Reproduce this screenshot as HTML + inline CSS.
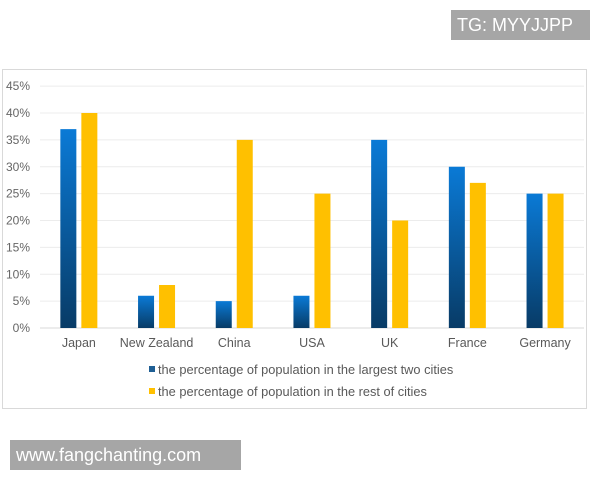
<!DOCTYPE html>
<html><head><meta charset="utf-8"><style>
body{margin:0;width:600px;height:480px;background:#fff;position:relative;overflow:hidden;font-family:"Liberation Sans",sans-serif}
.wm{position:absolute;background:#a6a6a6;color:#fff;font-size:18px;line-height:30px;padding-left:6px;box-sizing:border-box}
</style></head><body>
<div class="wm" style="left:451px;top:10px;width:139px;height:30px">TG: MYYJJPP</div>
<div class="wm" style="left:10px;top:440px;width:231px;height:30px">www.fangchanting.com</div>
<svg id="chart" width="600" height="480" style="position:absolute;left:0;top:0">
<defs>
<linearGradient id="gb" x1="0" y1="0" x2="0" y2="1"><stop offset="0" stop-color="#0a7ad6"/><stop offset="1" stop-color="#083b66"/></linearGradient>
</defs>
<rect x="2.5" y="69.5" width="584" height="339" fill="#fff" stroke="#d9d9d9"/>
</svg>
<script>
const categories=["Japan","New Zealand","China","USA","UK","France","Germany"];
const largestTwo=[37,6,5,6,35,30,25];
const restOfCities=[40,8,35,25,20,27,25];
const ticks=[0,5,10,15,20,25,30,35,40,45];
const legendLabels=["the percentage of population in the largest two cities","the percentage of population in the rest of cities"];
const svg=document.getElementById('chart');const NS="http://www.w3.org/2000/svg";
const y=v=>328-v*5.375;
const left=40,step=77.7;
const xc=i=>left+step*(i+0.5);
function mk(t,a,txt){const e=document.createElementNS(NS,t);for(const k in a)e.setAttribute(k,a[k]);if(txt!==undefined)e.textContent=txt;svg.appendChild(e);return e;}
ticks.forEach(t=>{
 const g=mk('line',{x1:left,x2:584,y1:y(t),y2:y(t),stroke:t===0?'#d9d9d9':'#ececec'});
 
 
 const l=mk('text',{x:30,y:y(t)+4,'text-anchor':'end','font-size':12,fill:'#666'},t+'%');
 
 
});
categories.forEach((c,i)=>{
 const b1=mk('rect',{x:xc(i)-18.5,y:y(largestTwo[i]),width:16,height:328-y(largestTwo[i]),fill:'url(#gb)'});
 
 
 const b2=mk('rect',{x:xc(i)+2.5,y:y(restOfCities[i]),width:16,height:328-y(restOfCities[i]),fill:'#ffc000'});
 
 
 const t=mk('text',{x:xc(i),y:347,'text-anchor':'middle','font-size':12.5,fill:'#595959'},c);
 
 
});
legendLabels.forEach((s,i)=>{
 const sw=mk('rect',{x:149,y:366+i*22,width:6,height:6,fill:i?'#ffc000':'#1f5f94'});
 
 
 const t=mk('text',{x:158,y:374+i*22,'font-size':12.8,fill:'#595959'},s);
 
 
});
</script>
</body></html>
